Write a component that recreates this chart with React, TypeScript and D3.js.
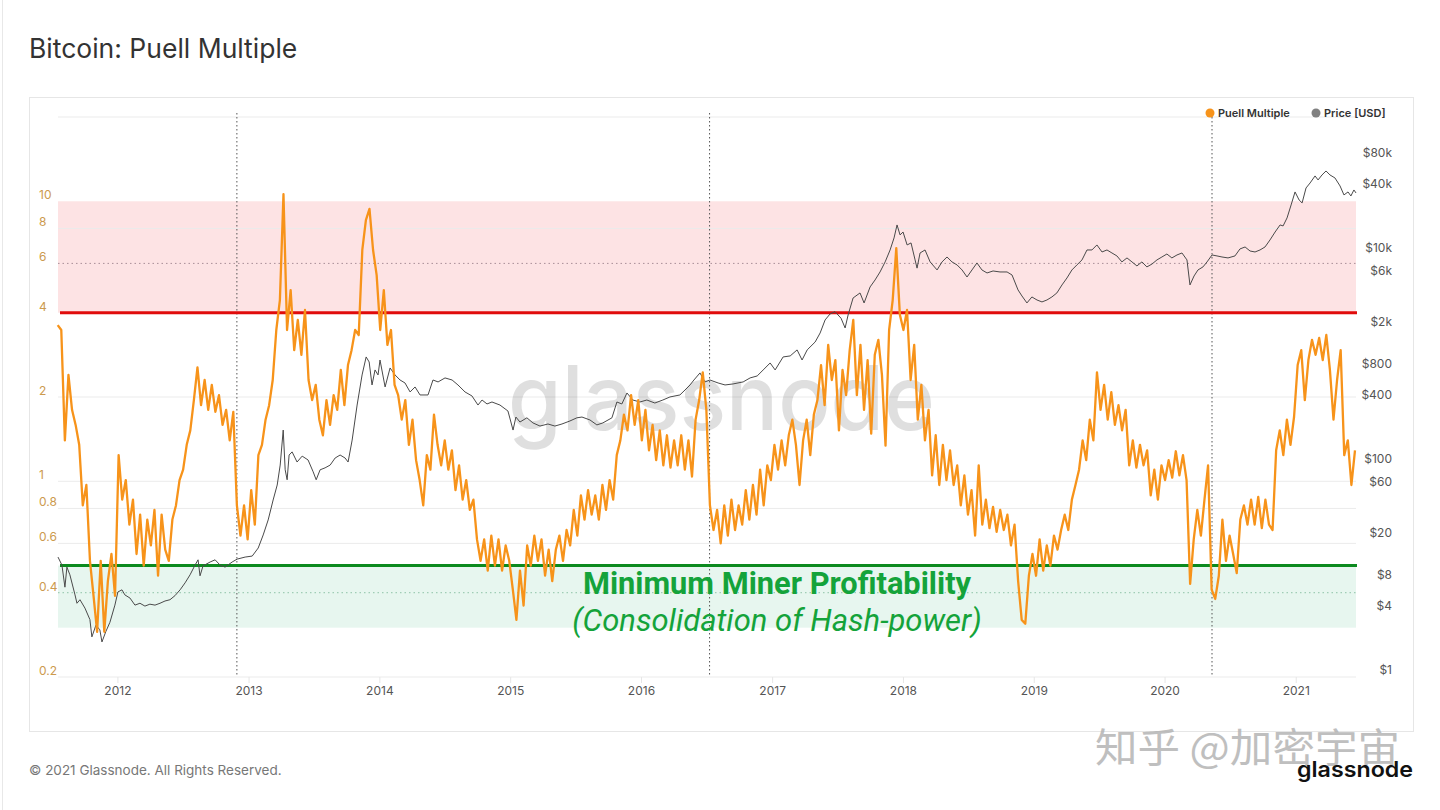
import React from "react";
import * as d3 from "d3";

// Puell Multiple, one reading every 10 days from 2011-07-17
const puellStart = "2011-07-17";
const puellStepDays = 10;
const puellValues = [
  3.61, 3.47, 1.40, 2.40, 1.80, 1.59, 1.35, 0.82, 0.97, 0.52,
  0.39, 0.29, 0.52, 0.29, 0.44, 0.55, 0.39, 1.24, 0.86, 1.01,
  0.70, 0.86, 0.55, 0.76, 0.50, 0.73, 0.59, 0.79, 0.46, 0.76,
  0.57, 0.52, 0.73, 0.82, 1.01, 1.10, 1.35, 1.52, 1.95, 2.55,
  1.87, 2.30, 1.80, 2.21, 1.77, 2.03, 1.59, 1.80, 1.40, 1.77,
  0.82, 0.64, 0.82, 0.62, 0.93, 0.70, 1.24, 1.35, 1.66, 1.87,
  2.30, 3.47, 4.44, 10.6, 3.47, 4.82, 2.94, 3.77, 2.83, 4.09,
  2.30, 1.95, 2.21, 1.66, 1.46, 1.95, 1.59, 2.03, 1.80, 2.50,
  1.87, 2.60, 2.94, 3.47, 3.33, 6.70, 8.57, 9.40, 6.70, 5.45,
  3.47, 4.82, 3.07, 3.47, 2.21, 2.03, 1.66, 1.95, 1.35, 1.66,
  1.19, 1.01, 0.82, 1.24, 1.10, 1.73, 1.35, 1.14, 1.40, 1.10,
  1.29, 0.93, 1.14, 0.86, 1.01, 0.79, 0.86, 0.62, 0.52, 0.62,
  0.48, 0.64, 0.50, 0.62, 0.48, 0.59, 0.52, 0.41, 0.32, 0.48,
  0.36, 0.59, 0.50, 0.64, 0.52, 0.62, 0.46, 0.57, 0.44, 0.57,
  0.64, 0.52, 0.67, 0.59, 0.79, 0.64, 0.89, 0.73, 0.93, 0.76,
  0.89, 0.73, 0.97, 0.79, 1.01, 0.86, 1.24, 1.40, 1.73, 1.52,
  2.03, 1.59, 1.95, 1.40, 1.80, 1.29, 1.59, 1.19, 1.52, 1.14,
  1.46, 1.12, 1.40, 1.14, 1.46, 1.10, 1.40, 1.04, 1.66, 1.95,
  2.45, 1.80, 0.82, 0.67, 0.79, 0.60, 0.82, 0.64, 0.86, 0.67,
  0.82, 0.70, 0.93, 0.73, 0.97, 0.76, 1.10, 0.82, 1.14, 1.01,
  1.35, 1.10, 1.40, 1.14, 1.46, 1.66, 1.35, 0.97, 1.40, 1.66,
  1.24, 1.73, 1.95, 2.60, 1.87, 3.07, 2.30, 2.71, 1.52, 2.50,
  2.03, 2.94, 3.77, 2.03, 3.07, 1.80, 2.71, 1.48, 2.83, 3.20,
  2.40, 1.34, 3.47, 4.44, 6.80, 3.93, 3.47, 4.09, 2.30, 3.07,
  1.66, 2.21, 1.40, 1.80, 1.05, 1.46, 0.97, 1.35, 1.01, 1.29,
  0.97, 1.14, 0.82, 1.05, 0.76, 0.93, 0.64, 1.14, 0.70, 0.86,
  0.68, 0.81, 0.66, 0.79, 0.67, 0.76, 0.59, 0.70, 0.44, 0.32,
  0.31, 0.46, 0.55, 0.46, 0.62, 0.48, 0.59, 0.50, 0.64, 0.57,
  0.67, 0.76, 0.67, 0.86, 0.97, 1.10, 1.40, 1.19, 1.66, 1.40,
  2.45, 1.80, 2.21, 1.66, 2.08, 1.59, 1.87, 1.52, 1.80, 1.14,
  1.40, 1.12, 1.35, 1.14, 1.29, 0.89, 1.10, 0.86, 1.14, 1.01,
  1.19, 1.03, 1.28, 1.05, 1.24, 1.01, 0.43, 0.62, 0.79, 0.64,
  0.86, 1.14, 0.41, 0.38, 0.46, 0.73, 0.52, 0.64, 0.55, 0.47,
  0.73, 0.82, 0.70, 0.86, 0.70, 0.88, 0.68, 0.86, 0.70, 0.67,
  1.29, 1.52, 1.24, 1.66, 1.35, 1.70, 2.60, 2.94, 1.95, 2.71,
  3.20, 2.83, 3.25, 2.71, 3.33, 2.50, 1.66, 2.30, 2.94, 1.24,
  1.40, 0.97, 1.29,
];

// BTC price [decimal year, USD]
const priceSeries: [number, number][] = [
  [2011.542, 13.7], [2011.572, 11.5], [2011.595, 7.1], [2011.61, 11.0], [2011.633, 9.3],
  [2011.672, 6.0], [2011.687, 5.0], [2011.71, 5.4], [2011.748, 4.5], [2011.786, 3.5],
  [2011.801, 2.4], [2011.832, 3.1], [2011.862, 2.8], [2011.878, 2.15], [2011.908, 2.7],
  [2011.939, 3.3], [2011.977, 4.8], [2012.0, 6.4], [2012.031, 6.7], [2012.053, 6.0],
  [2012.092, 5.6], [2012.13, 4.8], [2012.168, 5.0], [2012.206, 4.7], [2012.244, 4.9],
  [2012.283, 4.8], [2012.321, 5.0], [2012.359, 5.25], [2012.397, 5.4], [2012.435, 5.9],
  [2012.474, 6.7], [2012.512, 7.8], [2012.55, 9.3], [2012.588, 11.5], [2012.611, 12.9],
  [2012.626, 9.1], [2012.649, 11.3], [2012.703, 12.3], [2012.741, 12.9], [2012.779, 11.5],
  [2012.817, 11.0], [2012.871, 12.3], [2012.909, 13.1], [2012.97, 13.7], [2013.024, 14.0],
  [2013.07, 16.7], [2013.108, 22.2], [2013.146, 30.8], [2013.184, 47.6], [2013.215, 66],
  [2013.238, 102], [2013.261, 219], [2013.276, 92], [2013.291, 74], [2013.306, 127],
  [2013.329, 136], [2013.367, 109], [2013.406, 124], [2013.451, 114], [2013.49, 88],
  [2013.513, 74], [2013.543, 92], [2013.581, 96], [2013.62, 102], [2013.658, 119],
  [2013.696, 127], [2013.734, 119], [2013.757, 109], [2013.788, 176], [2013.826, 378],
  [2013.864, 729], [2013.895, 1080], [2013.918, 968], [2013.94, 586], [2013.963, 813],
  [2013.986, 729], [2014.001, 1010], [2014.04, 561], [2014.078, 849], [2014.116, 729],
  [2014.154, 653], [2014.192, 612], [2014.231, 503], [2014.269, 561], [2014.307, 471],
  [2014.368, 471], [2014.406, 653], [2014.445, 626], [2014.498, 683], [2014.552, 653],
  [2014.597, 586], [2014.651, 503], [2014.704, 461], [2014.75, 378], [2014.781, 422],
  [2014.819, 387], [2014.857, 404], [2014.918, 378], [2014.979, 332], [2015.018, 219],
  [2015.04, 291], [2015.071, 261], [2015.124, 286], [2015.17, 256], [2015.224, 239],
  [2015.285, 250], [2015.338, 239], [2015.392, 250], [2015.453, 267], [2015.506, 286],
  [2015.545, 291], [2015.606, 273], [2015.659, 245], [2015.705, 256], [2015.774, 286],
  [2015.812, 404], [2015.85, 387], [2015.889, 492], [2015.934, 422], [2015.988, 404],
  [2016.041, 422], [2016.102, 395], [2016.163, 422], [2016.217, 451], [2016.293, 471],
  [2016.332, 525], [2016.37, 586], [2016.4, 653], [2016.446, 762], [2016.484, 626],
  [2016.522, 653], [2016.584, 612], [2016.637, 586], [2016.698, 599], [2016.775, 626],
  [2016.828, 683], [2016.882, 713], [2016.928, 813], [2016.981, 947], [2017.019, 813],
  [2017.08, 1080], [2017.134, 1104], [2017.187, 1259], [2017.225, 1010], [2017.264, 1259],
  [2017.325, 1497], [2017.363, 1822], [2017.401, 2421], [2017.439, 2760], [2017.477, 2900],
  [2017.523, 2512], [2017.554, 2033], [2017.577, 2700], [2017.615, 3910], [2017.668, 4365],
  [2017.699, 3508], [2017.745, 4977], [2017.783, 5794], [2017.821, 6902], [2017.86, 8590],
  [2017.898, 11150], [2017.928, 14500], [2017.951, 19250], [2017.974, 15480], [2017.997, 16500],
  [2018.028, 12440], [2018.058, 13000], [2018.089, 8970], [2018.104, 7500], [2018.127, 10440],
  [2018.165, 11150], [2018.204, 8590], [2018.257, 7210], [2018.295, 8590], [2018.333, 9570],
  [2018.371, 8590], [2018.41, 8040], [2018.448, 7210], [2018.486, 6180], [2018.524, 7210],
  [2018.562, 8400], [2018.6, 7210], [2018.639, 6750], [2018.685, 7050], [2018.738, 6900],
  [2018.792, 6900], [2018.83, 6460], [2018.876, 4660], [2018.906, 4085], [2018.944, 3508],
  [2018.982, 4000], [2019.021, 3743], [2019.059, 3588], [2019.097, 3743], [2019.135, 4000],
  [2019.173, 4365], [2019.212, 5198], [2019.25, 6050], [2019.288, 7210], [2019.326, 8040],
  [2019.365, 8970], [2019.403, 11150], [2019.441, 11150], [2019.479, 12440], [2019.518, 10670],
  [2019.556, 11150], [2019.594, 10440], [2019.632, 9790], [2019.67, 8590], [2019.709, 9370],
  [2019.747, 8590], [2019.785, 7870], [2019.823, 8590], [2019.861, 7700], [2019.9, 8200],
  [2019.938, 8970], [2019.976, 9570], [2020.014, 10210], [2020.052, 9370], [2020.091, 10000],
  [2020.129, 10440], [2020.167, 8970], [2020.19, 5198], [2020.221, 6320], [2020.251, 7210],
  [2020.289, 7700], [2020.32, 8590], [2020.358, 10000], [2020.396, 9790], [2020.434, 9570],
  [2020.48, 9370], [2020.533, 9790], [2020.571, 11400], [2020.61, 11900], [2020.648, 10900],
  [2020.686, 10670], [2020.724, 11150], [2020.762, 11900], [2020.8, 13870], [2020.839, 16500],
  [2020.877, 19250], [2020.9, 18840], [2020.93, 22430], [2020.961, 29780], [2020.991, 39550],
  [2021.022, 33200], [2021.045, 31120], [2021.075, 43150], [2021.106, 48100], [2021.144, 56100],
  [2021.167, 51400], [2021.197, 57300], [2021.228, 62500], [2021.258, 57300], [2021.296, 53700],
  [2021.335, 45080], [2021.365, 37060], [2021.396, 39550], [2021.418, 36240], [2021.441, 41300],
  [2021.457, 38700],
];

const halvingDates = ["2012-11-28", "2016-07-09", "2020-05-11"];
const puellTicks = [0.2, 0.4, 0.6, 0.8, 1, 2, 4, 6, 8, 10];
const priceTicks = [1, 4, 8, 20, 60, 100, 400, 800, 2000, 6000, 10000, 40000, 80000];
const priceTickLabels = ["$1", "$4", "$8", "$20", "$60", "$100", "$400", "$800", "$2k", "$6k", "$10k", "$40k", "$80k"];
const yearTicks = [2012, 2013, 2014, 2015, 2016, 2017, 2018, 2019, 2020, 2021];
const sellZone = [4, 10];
const buyZone = [0.3, 0.5];
const dottedLevels = [6, 0.4];

const W = 1440;
const H = 810;
const L = 58;
const R = 1356;
const T = 117;
const B = 677;

const yearToDate = (t: number) => {
  const y = Math.floor(t);
  const a = Date.UTC(y, 0, 1);
  const b = Date.UTC(y + 1, 0, 1);
  return new Date(a + (t - y) * (b - a));
};

const ORANGE = "#f7931a";
const SANS = "Inter, 'Noto Sans', sans-serif";

export default function App() {
  const x = d3.scaleUtc().domain([yearToDate(2011.542), yearToDate(2021.457)]).range([L, R]);
  const yP = d3.scaleLog().domain([0.2, 20]).range([B, T]);
  const yUsd = d3.scaleLog().domain([1, 203000]).range([B, T]);

  const start = new Date(puellStart + "T00:00:00Z");
  const puell = puellValues.map((v, i) => ({ d: d3.utcDay.offset(start, i * puellStepDays), v }));

  const puellLine = d3.line<{ d: Date; v: number }>()
    .x(p => x(p.d))
    .y(p => yP(p.v));
  const priceLine = d3.line<[number, number]>()
    .x(p => x(yearToDate(p[0])))
    .y(p => yUsd(p[1]));

  return (
    <svg width={W} height={H} style={{ position: "absolute", left: 0, top: 0, display: "block", background: "#fff" }}>
      <rect x={0} y={0} width={W} height={H} fill="#fff" />
      <line x1={2.5} x2={2.5} y1={0} y2={H} stroke="#e8e8e8" />

      <text x={29} y={58} fontFamily={SANS} fontSize={26.5} fill="#333">Bitcoin: Puell Multiple</text>

      <rect x={29.5} y={97.5} width={1384} height={634} fill="#fff" stroke="#e6e6e6" />

      {/* zones */}
      <rect x={L} width={R - L} y={yP(sellZone[1])} height={yP(sellZone[0]) - yP(sellZone[1])} fill="#fde3e4" />
      <rect x={L} width={R - L} y={yP(buyZone[1])} height={yP(buyZone[0]) - yP(buyZone[1])} fill="#e7f6ef" />

      {/* grid */}
      {[...puellTicks.filter(t => !dottedLevels.includes(t) && t !== 4 && t !== 10), 20].map(t => (
        <line key={t} x1={L} x2={R} y1={yP(t)} y2={yP(t)} stroke="#ebebeb" strokeWidth={1} />
      ))}
      <line x1={L} x2={R} y1={yP(6)} y2={yP(6)} stroke="#a88e98" strokeDasharray="1.5,3" />
      <line x1={L} x2={R} y1={yP(0.4)} y2={yP(0.4)} stroke="#8ec3a8" strokeDasharray="1.5,3" />

      {/* x ticks */}
      {yearTicks.map(yr => {
        const xx = x(new Date(Date.UTC(yr, 0, 1)));
        return (
          <g key={yr}>
            <line x1={xx} x2={xx} y1={B} y2={B + 6} stroke="#e6e6e6" />
            <text x={xx} y={695} textAnchor="middle" fontFamily={SANS} fontSize={12} fill="#555">{yr}</text>
          </g>
        );
      })}

      {/* left axis */}
      {puellTicks.map(t => (
        <text key={t} x={39} y={yP(t) - 2} fontFamily={SANS} fontSize={12} fill="#cc9a4e">{t}</text>
      ))}
      {/* right axis */}
      {priceTicks.map((t, i) => (
        <text key={t} x={1392} y={yUsd(t) - 3} textAnchor="end" fontFamily={SANS} fontSize={12} fill="#555">{priceTickLabels[i]}</text>
      ))}

      {/* watermark */}
      <text x={508} y={430} fontFamily={SANS} fontSize={90} fontWeight={500} fill="#000" opacity={0.12} textLength={427} lengthAdjust="spacingAndGlyphs">glassnode</text>

      {/* halvings */}
      {halvingDates.map(h => {
        const xx = x(new Date(h + "T00:00:00Z"));
        return <line key={h} x1={xx} x2={xx} y1={113} y2={B} stroke="#555" strokeDasharray="1.5,2.5" />;
      })}

      <line x1={L + 2} x2={R + 1} y1={yP(4)} y2={yP(4)} stroke="#e00b0b" strokeWidth={3} />
      <line x1={L + 2} x2={R + 1} y1={yP(0.5)} y2={yP(0.5)} stroke="#0c8a1f" strokeWidth={3} />

      <path d={priceLine(priceSeries) || ""} fill="none" stroke="#4a4a4a" strokeWidth={1} strokeLinejoin="round" />
      <path d={puellLine(puell) || ""} fill="none" stroke={ORANGE} strokeWidth={2.3} strokeLinejoin="round" />

      {/* annotation */}
      <text x={777} y={594} textAnchor="middle" fontFamily="Roboto, sans-serif" fontWeight={700} fontSize={30.8} fill="#14a33a">Minimum Miner Profitability</text>
      <text x={777} y={631} textAnchor="middle" fontFamily="Roboto, sans-serif" fontStyle="italic" fontSize={31} fill="#14a33a">(Consolidation of Hash-power)</text>

      {/* legend */}
      <circle cx={1210} cy={113} r={4.5} fill={ORANGE} />
      <text x={1218} y={117} fontFamily={SANS} fontSize={11} fontWeight={600} fill="#333">Puell Multiple</text>
      <circle cx={1316} cy={113} r={4.5} fill="#808080" />
      <text x={1324} y={117} fontFamily={SANS} fontSize={11} fontWeight={600} fill="#333">Price [USD]</text>

      {/* footer */}
      <text x={29} y={775} fontFamily={SANS} fontSize={13.5} fill="#777">© 2021 Glassnode. All Rights Reserved.</text>
      <text x={1095} y={762} fontFamily="'Noto Sans CJK SC', sans-serif" fontSize={40} fill="#b4b4b4" opacity={0.85} textLength={305} lengthAdjust="spacingAndGlyphs">知乎 @加密宇宙</text>
      <text x={1297} y={777} fontFamily={SANS} fontSize={22} fontWeight={600} fill="#111" textLength={116} lengthAdjust="spacingAndGlyphs">glassnode</text>
    </svg>
  );
}
